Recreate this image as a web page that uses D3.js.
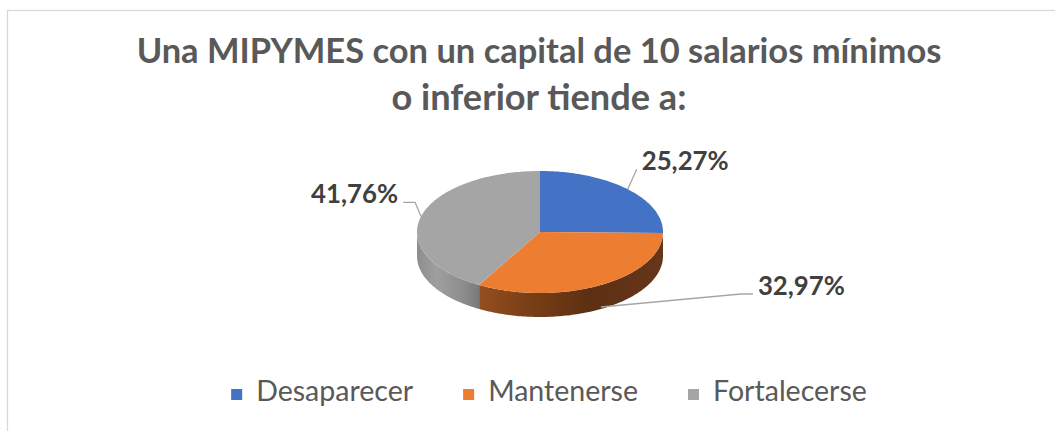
<!DOCTYPE html>
<html><head><meta charset="utf-8">
<script src="https://cdn.jsdelivr.net/npm/d3@7"></script>
<style>html,body{margin:0;padding:0;background:#fff;}svg{display:block;}</style>
</head><body>
<svg id="chart" width="1055" height="431"></svg>
<script>
// ---- data ----
const categories = ["Desaparecer", "Mantenerse", "Fortalecerse"];
const values = [25.27, 32.97, 41.76];
const valueLabels = ["25,27%", "32,97%", "41,76%"];
const titleLines = ["Una MIPYMES con un capital de 10 salarios mínimos", "o inferior tiende a:"];

// ---- style / layout ----
const colors = ["#4472C4", "#ED7D31", "#A5A5A5"];
const W = 1055, H = 431;
const cx = 540, cy = 232, rx = 123, ry = 61, depth = 24;
const FONT = "Lato, 'Open Sans', sans-serif";

const svg = d3.select("#chart");
const defs = svg.append("defs");

// chart border (extends past right/bottom edges)
svg.append("rect").attr("x", 7.5).attr("y", 10.5).attr("width", W + 20).attr("height", H + 20)
  .attr("fill", "#fff").attr("stroke", "#d9d9d9").attr("stroke-width", 1.3);

function fitText(sel, target) {
  const node = sel.node();
  const fs = parseFloat(sel.attr("font-size"));
  const w = node.getComputedTextLength();
  sel.attr("font-size", (fs * target / w).toFixed(2));
}

// title
const titleSpec = [{w: 805, y: 63}, {w: 295, y: 110}];
titleLines.forEach((t, i) => {
  const s = svg.append("text").attr("x", 539).attr("y", titleSpec[i].y)
    .attr("text-anchor", "middle").attr("font-family", FONT).attr("font-weight", 700)
    .attr("font-size", 30).attr("fill", "#595959").text(t);
  fitText(s, titleSpec[i].w);
});

// side gradients
const sideGrad = [
  null,
  [["0%", "#b5622a"], ["45%", "#7a3f16"], ["70%", "#5d3013"], ["100%", "#66361a"]],
  [["0%", "#8d8d8d"], ["8%", "#9f9f9f"], ["20%", "#8a8a8a"], ["26%", "#777777"], ["100%", "#777777"]]
];
sideGrad.forEach((stops, i) => {
  if (!stops) return;
  const g = defs.append("linearGradient").attr("id", "side" + i)
    .attr("gradientUnits", "userSpaceOnUse")
    .attr("x1", cx - rx).attr("x2", cx + rx).attr("y1", 0).attr("y2", 0);
  stops.forEach(s => g.append("stop").attr("offset", s[0]).attr("stop-color", s[1]));
});

const pie = d3.pie().sort(null).value(d => d).startAngle(0).endAngle(2 * Math.PI);
const arcs = pie(values);

const pt = (a, dy = 0) => [cx + rx * Math.sin(a), cy - ry * Math.cos(a) + dy];
function samples(a0, a1, dy) {
  const n = Math.max(2, Math.ceil(Math.abs(a1 - a0) / (Math.PI / 180)));
  return d3.range(n + 1).map(k => pt(a0 + (a1 - a0) * k / n, dy));
}

// side walls (front half: PI/2 .. 3PI/2)
arcs.forEach((a, i) => {
  const s = Math.max(a.startAngle, Math.PI / 2), e = Math.min(a.endAngle, 3 * Math.PI / 2);
  if (e <= s) return;
  const top = samples(s, e, 0), bot = samples(e, s, depth);
  const d = "M" + top.concat(bot).map(p => p.join(",")).join("L") + "Z";
  svg.append("path").attr("d", d).attr("fill", sideGrad[i] ? `url(#side${i})` : colors[i]);
});

// top faces
arcs.forEach((a, i) => {
  const pts = samples(a.startAngle, a.endAngle, 0);
  const d = `M${cx},${cy}L` + pts.map(p => p.join(",")).join("L") + "Z";
  svg.append("path").attr("d", d).attr("fill", colors[i]);
});

// data labels with leader lines
const labelLayout = [
  {bottom: false, elbow: [9, -20], tail: 0, dir: 1},
  {bottom: true, elbow: [140, -13], tail: 12, dir: 1},
  {bottom: false, elbow: [-6, -14], tail: -12, dir: -1}
];
arcs.forEach((a, i) => {
  const L = labelLayout[i];
  const mid = (a.startAngle + a.endAngle) / 2;
  const p0 = pt(mid, L.bottom ? depth - 2 : 0);
  const p1 = [p0[0] + L.elbow[0], p0[1] + L.elbow[1]];
  const p2 = [p1[0] + L.tail, p1[1]];
  svg.append("path").attr("d", `M${p0}L${p1}L${p2}`).attr("fill", "none")
    .attr("stroke", "#a6a6a6").attr("stroke-width", 1.3);
  const t = svg.append("text").attr("x", p2[0] + 5 * L.dir).attr("y", p2[1] + 1)
    .attr("text-anchor", L.dir > 0 ? "start" : "end")
    .attr("font-family", FONT).attr("font-weight", 700).attr("font-size", 26)
    .attr("fill", "#404040").text(valueLabels[i]);
  fitText(t, 87);
});

// legend
const legendFont = 28, sq = 11, sqGap = 14, itemGap = 50;
const lg = svg.append("g");
let x = 0;
const items = categories.map((c, i) => {
  const g = lg.append("g");
  g.append("rect").attr("x", 0).attr("y", -12).attr("width", sq).attr("height", sq).attr("fill", colors[i]);
  const t = g.append("text").attr("x", sq + sqGap).attr("y", 0).attr("font-family", FONT)
    .attr("font-size", legendFont).attr("fill", "#595959").text(c);
  return {g, t};
});
// scale legend font so "Desaparecer" ≈ 157px
const k = 157 / items[0].t.node().getComputedTextLength();
items.forEach(it => it.t.attr("font-size", (legendFont * k).toFixed(2)));
items.forEach(it => {
  it.g.attr("transform", `translate(${x},0)`);
  x += sq + sqGap + it.t.node().getComputedTextLength() + itemGap;
});
const total = x - itemGap;
lg.attr("transform", `translate(${549 - total / 2},401)`);
</script>
</body></html>
